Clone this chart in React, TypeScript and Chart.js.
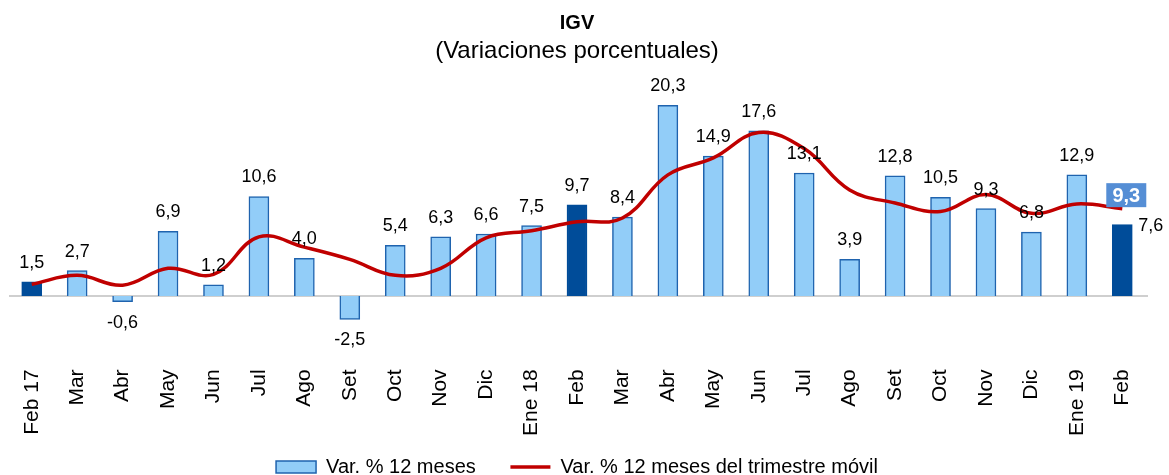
import React, { useEffect, useRef } from 'react';
import { Chart, registerables } from 'chart.js';

Chart.register(...registerables);

const FONT = '"Liberation Sans", Arial, Helvetica, sans-serif';

const categories = [
  'Feb 17', 'Mar', 'Abr', 'May', 'Jun', 'Jul', 'Ago', 'Set', 'Oct', 'Nov', 'Dic', 'Ene 18',
  'Feb', 'Mar', 'Abr', 'May', 'Jun', 'Jul', 'Ago', 'Set', 'Oct', 'Nov', 'Dic', 'Ene 19', 'Feb',
];
const monthlyVar = [
  1.5, 2.7, -0.6, 6.9, 1.2, 10.6, 4.0, -2.5, 5.4, 6.3, 6.6, 7.5,
  9.7, 8.4, 20.3, 14.9, 17.6, 13.1, 3.9, 12.8, 10.5, 9.3, 6.8, 12.9, 7.6,
];
const movingQuarterVar = [
  1.25, 2.2, 1.15, 2.95, 2.3, 6.3, 5.2, 3.9, 2.2, 2.95, 6.2, 6.95,
  7.9, 8.3, 12.9, 14.7, 17.4, 15.7, 11.3, 9.9, 9.0, 10.8, 8.8, 9.8, 9.3,
];
const highlightedIdx = [0, 12, 24];
const seriesNames = ['Var. % 12 meses', 'Var. % 12 meses del trimestre móvil'];

const LIGHT = '#92CDF8';
const LIGHT_BORDER = '#1F63AE';
const DARK = '#004C99';
const RED = '#C00000';

const fmt = (v: number) => v.toFixed(1).replace('.', ',');

export default function App() {
  const ref = useRef<HTMLCanvasElement>(null);

  useEffect(() => {
    const valuePlugin = {
      id: 'valueLabels',
      beforeDatasetsDraw(chart: any) {
        const { ctx, chartArea, scales } = chart;
        const y0 = scales.y.getPixelForValue(0);
        ctx.save();
        ctx.strokeStyle = '#BFBFBF';
        ctx.lineWidth = 1.5;
        ctx.beginPath();
        ctx.moveTo(chartArea.left, y0);
        ctx.lineTo(chartArea.right + 3, y0);
        ctx.stroke();
        ctx.restore();
      },
      afterDatasetsDraw(chart: any) {
        const { ctx } = chart;
        const barMeta = chart.getDatasetMeta(0);
        const last = monthlyVar.length - 1;
        ctx.save();
        ctx.font = `18px ${FONT}`;
        ctx.fillStyle = '#000';
        ctx.textBaseline = 'middle';
        barMeta.data.forEach((bar: any, i: number) => {
          const v = monthlyVar[i];
          const { x, y } = bar.getProps(['x', 'y'], true);
          if (i === last) {
            ctx.textAlign = 'left';
            ctx.fillText(fmt(v), x + 16, y + 1);
          } else if (v >= 0) {
            ctx.textAlign = 'center';
            ctx.fillText(fmt(v), x, y - 19);
          } else {
            ctx.textAlign = 'center';
            ctx.fillText(fmt(v), x, y + 21);
          }
        });
        const lineMeta = chart.getDatasetMeta(1);
        const pt = lineMeta.data[last];
        const { x, y } = pt.getProps(['x', 'y'], true);
        const cx = x + 4;
        const cy = y - 13.5;
        ctx.fillStyle = '#558ED5';
        ctx.fillRect(cx - 20, cy - 12, 40, 24);
        ctx.fillStyle = '#fff';
        ctx.font = `bold 20px ${FONT}`;
        ctx.textAlign = 'center';
        ctx.fillText(fmt(movingQuarterVar[last]), cx, cy + 1);
        ctx.restore();
      },
    };

    const chart = new Chart(ref.current as HTMLCanvasElement, {
      type: 'bar',
      data: {
        labels: categories,
        datasets: [
          {
            type: 'bar',
            label: seriesNames[0],
            data: monthlyVar,
            backgroundColor: monthlyVar.map((_, i) => (highlightedIdx.includes(i) ? DARK : LIGHT)),
            borderColor: monthlyVar.map((_, i) => (highlightedIdx.includes(i) ? DARK : LIGHT_BORDER)),
            borderWidth: 1.5,
            barThickness: 20,
            order: 2,
          } as any,
          {
            type: 'line',
            label: seriesNames[1],
            data: movingQuarterVar,
            borderColor: RED,
            backgroundColor: RED,
            borderWidth: 3.5,
            pointRadius: 0,
            tension: 0.4,
            fill: false,
            order: 1,
          } as any,
        ],
      },
      options: {
        responsive: false,
        animation: false,
        devicePixelRatio: 1,
        layout: { padding: { left: 9, right: 24, top: 0, bottom: 0 } },
        plugins: {
          tooltip: { enabled: false },
          title: {
            display: true,
            text: 'IGV',
            color: '#000',
            font: { family: FONT, size: 20, weight: 'bold' },
            padding: { top: 11, bottom: 1.6 },
          },
          subtitle: {
            display: true,
            text: '(Variaciones porcentuales)',
            color: '#000',
            font: { family: FONT, size: 24 },
            padding: { top: 0, bottom: 24 },
          },
          legend: {
            position: 'bottom',
            labels: {
              color: '#000',
              font: { family: FONT, size: 20 },
              usePointStyle: true,
              pointStyleWidth: 40,
              boxHeight: 12,
              padding: 18,
              sort: (a: any, b: any) => a.datasetIndex - b.datasetIndex,
              generateLabels: (c: any) => {
                const items = (Chart.defaults.plugins.legend.labels as any).generateLabels(c);
                items.forEach((it: any) => {
                  if (it.datasetIndex === 0) {
                    it.text = seriesNames[0] + '\u00A0\u00A0\u00A0';
                    it.pointStyle = 'rect';
                    it.fillStyle = LIGHT;
                    it.strokeStyle = LIGHT_BORDER;
                    it.lineWidth = 1.5;
                  } else {
                    it.pointStyle = 'line';
                    it.strokeStyle = RED;
                    it.fillStyle = RED;
                    it.lineWidth = 3.5;
                  }
                });
                return items;
              },
            },
          },
        },
        scales: {
          x: {
            grid: { display: false, drawTicks: false },
            border: { display: false },
            ticks: {
              color: '#000',
              font: { family: FONT, size: 21 },
              maxRotation: 90,
              minRotation: 90,
              autoSkip: false,
              padding: 3,
            },
          },
          y: {
            display: false,
            min: -7.5,
            max: 22,
          },
        },
      },
      plugins: [valuePlugin],
    } as any);

    return () => chart.destroy();
  }, []);

  return (
    <div style={{ position: 'fixed', left: 0, top: 0, width: 1169, height: 487, background: '#fff' }}>
      <canvas ref={ref} width={1169} height={487} style={{ display: 'block', width: 1169, height: 487 }} />
    </div>
  );
}
